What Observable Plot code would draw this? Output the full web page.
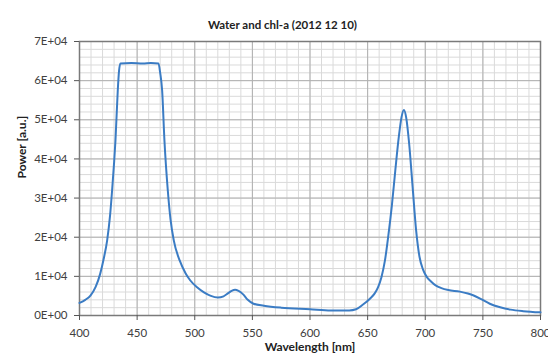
<!DOCTYPE html>
<html>
<head>
<meta charset="utf-8">
<script src="https://cdn.jsdelivr.net/npm/d3@7"></script>
<script src="https://cdn.jsdelivr.net/npm/@observablehq/plot@0.6"></script>
<style>
  html, body { margin: 0; padding: 0; background: #fff; }
  #chart svg { display: block; }
</style>
</head>
<body>
<div id="chart"></div>
<script>
const title = "Water and chl-a (2012 12 10)";
const xLabel = "Wavelength [nm]";
const yLabel = "Power [a.u.]";

const wavelength = [400, 405, 409.5, 414, 418, 421, 424, 426.5, 428.3, 430, 431.2, 433.2, 434.3, 435.5, 445, 455, 462, 468.5, 470, 471.7, 473.7, 476.6, 479, 481.8, 487, 492, 496, 502, 508, 514, 520, 525, 529, 532, 535, 538, 542, 546, 551, 560, 575, 600, 618, 634, 640, 646, 652, 656, 659, 662, 665, 668, 671, 674, 677, 679.5, 681.5, 683.5, 686, 689, 692, 695, 698, 701, 705, 709, 714, 720, 730, 737, 742, 749, 756, 765, 774, 785, 800];
const power = [3200, 4000, 5100, 7300, 10700, 14500, 19200, 25500, 32000, 39000, 44700, 57500, 62500, 64400, 64500, 64400, 64500, 64400, 62000, 57500, 44700, 32000, 24500, 19200, 14000, 10800, 9000, 7200, 5900, 5000, 4600, 4900, 5700, 6300, 6600, 6300, 5400, 4000, 3000, 2500, 2000, 1600, 1300, 1300, 1600, 2800, 4300, 5600, 7200, 9800, 14000, 20500, 28000, 37000, 45500, 50800, 52500, 50500, 44000, 33000, 22000, 15000, 11800, 10000, 8700, 7700, 7000, 6500, 6100, 5600, 5100, 4100, 3000, 2100, 1500, 1100, 800];

const xTicks = [400, 450, 500, 550, 600, 650, 700, 750, 800];
const yTicks = [0, 10000, 20000, 30000, 40000, 50000, 60000, 70000];
const yTickLabels = ["0E+00", "1E+04", "2E+04", "3E+04", "4E+04", "5E+04", "6E+04", "7E+04"];

const data = wavelength.map((w, i) => ({w, p: power[i]}));
const minorX = d3.range(400, 801, 10);
const minorY = d3.range(0, 70001, 2000);

const font = "Lato, 'Open Sans', sans-serif";

const chart = Plot.plot({
  width: 548,
  height: 359,
  marginTop: 41,
  marginBottom: 44,
  marginLeft: 79,
  marginRight: 8,
  style: {fontFamily: font, fontSize: "11.5px", color: "#404040", background: "#fff"},
  x: {domain: [400, 800], label: null},
  y: {domain: [0, 70000], label: null},
  marks: [
    Plot.gridX(minorX, {stroke: "#dadada", strokeOpacity: 1}),
    Plot.gridY(minorY, {stroke: "#dadada", strokeOpacity: 1}),
    Plot.gridX(xTicks, {stroke: "#b0b0b0", strokeOpacity: 1}),
    Plot.gridY(yTicks, {stroke: "#b0b0b0", strokeOpacity: 1}),
    Plot.frame({stroke: "#7a7a7a", strokeWidth: 1.5}),
    Plot.axisX(xTicks, {tickSize: 5, tickPadding: 8, stroke: "#555", fill: "#404040", fontSize: 11.5, label: null}),
    Plot.axisY(yTicks, {tickSize: 5, tickPadding: 7, stroke: "#555", fill: "#404040", fontSize: 11.5, label: null,
      tickFormat: (d) => yTickLabels[yTicks.indexOf(d)]}),
    Plot.line(data, {x: "w", y: "p", stroke: "#3b7cc4", strokeWidth: 2, curve: "monotone-x"}),
    Plot.text([title], {frameAnchor: "top-left", dx: 203, dy: -21, textAnchor: "middle", fontWeight: "bold", fontSize: 11.5, fill: "#222"}),
    Plot.text([xLabel], {frameAnchor: "bottom", dy: 35, fontWeight: "bold", fontSize: 12, fill: "#222"}),
    Plot.text([yLabel], {frameAnchor: "left", dx: -57, rotate: -90, fontWeight: "bold", fontSize: 12, fill: "#222"})
  ]
});
document.getElementById("chart").appendChild(chart);
</script>
</body>
</html>
